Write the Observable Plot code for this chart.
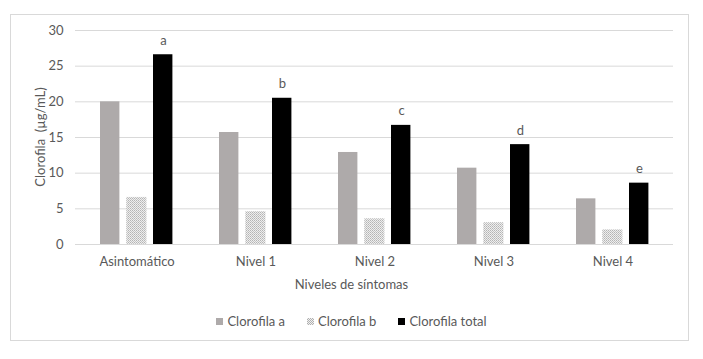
<!DOCTYPE html>
<html><head><meta charset="utf-8">
<script src="https://cdn.jsdelivr.net/npm/d3@7"></script>
<script src="https://cdn.jsdelivr.net/npm/@observablehq/plot@0.6"></script>
<style>
body{margin:0;background:#fff;font-family:Lato,"Noto Sans",sans-serif;}
#wrap{position:relative;width:703px;height:359px;}
#box{position:absolute;left:10px;top:14px;width:679px;height:327px;border:1px solid #d9d9d9;box-sizing:border-box;}
#chart{position:absolute;left:0;top:0;}
.t{position:absolute;color:#595959;font-size:13px;white-space:nowrap;}
#legend{position:absolute;top:313px;left:0;width:703px;display:flex;justify-content:center;gap:22px;color:#595959;font-size:13px;}
#legend span.sw{display:inline-block;width:7px;height:7px;margin-right:4px;vertical-align:1px;}
</style></head>
<body>
<div id="wrap">
<div id="box"></div>
<div id="chart"></div>
<div class="t" id="xt" style="left:0;width:703px;text-align:center;top:276px;">Niveles de síntomas</div>
<div class="t" id="yt" style="left:40px;top:137px;transform:translate(-50%,-50%) rotate(-90deg);">Clorofila&nbsp; (µg/mL)</div>
<div id="legend">
<div><span class="sw" style="background:repeating-conic-gradient(#aeaaaa 0 25%,#e0e0e0 0 50%) 0 0/2px 2px;background:#aeaaaa"></span>Clorofila a</div>
<div><span class="sw" style="background:repeating-conic-gradient(#b0b0b0 0 25%,#f0f0f0 0 50%) 0 0/2px 2px"></span>Clorofila b</div>
<div><span class="sw" style="background:#000"></span>Clorofila total</div>
</div>
</div>
<script>
const categories = ["Asintomático", "Nivel 1", "Nivel 2", "Nivel 3", "Nivel 4"];
const clorofilaA = [20.0, 15.7, 12.9, 10.7, 6.4];
const clorofilaB = [6.6, 4.6, 3.6, 3.05, 2.05];
const clorofilaTotal = [26.6, 20.5, 16.7, 14.0, 8.6];
const letters = ["a", "b", "c", "d", "e"];
const yTicks = [0, 5, 10, 15, 20, 25, 30];

const rows = categories.map((c, i) => ({cat: c, a: clorofilaA[i], b: clorofilaB[i], t: clorofilaTotal[i], l: letters[i]}));

const chart = Plot.plot({
  width: 703, height: 359,
  marginLeft: 75, marginRight: 30, marginTop: 30, marginBottom: 115,
  style: {fontFamily: "Lato, 'Noto Sans', sans-serif", fontSize: "13px", color: "#595959", background: "transparent"},
  x: {domain: categories, padding: 0, tickSize: 0, tickPadding: 12, label: null},
  y: {domain: [0, 30], ticks: yTicks, tickSize: 0, tickPadding: 12, label: null},
  marks: [
    Plot.ruleY(yTicks, {stroke: "#d9d9d9", strokeWidth: 1}),
    Plot.barY(rows, {x: "cat", y: "a", fill: "#aeaaaa", insetLeft: 23, insetRight: 76.6}),
    Plot.barY(rows, {x: "cat", y: "b", fill: "url(#chk)", insetLeft: 49.3, insetRight: 49.6}),
    Plot.barY(rows, {x: "cat", y: "t", fill: "#000", insetLeft: 76, insetRight: 23.6}),
    Plot.text(rows, {x: "cat", y: "t", text: "l", dx: 26.5, dy: -10, lineAnchor: "bottom", fill: "#595959", fontSize: 13})
  ]
});
const svg = d3.select(chart);
const defs = svg.insert("defs", ":first-child");
const p = defs.append("pattern").attr("id", "chk").attr("patternUnits", "userSpaceOnUse").attr("width", 2).attr("height", 2);
p.append("rect").attr("width", 2).attr("height", 2).attr("fill", "#eeeeee");
p.append("rect").attr("x", 0).attr("y", 0).attr("width", 1).attr("height", 1).attr("fill", "#b4b4b4");
p.append("rect").attr("x", 1).attr("y", 1).attr("width", 1).attr("height", 1).attr("fill", "#c4c4c4");
document.getElementById("chart").appendChild(chart);
</script>
</body></html>
